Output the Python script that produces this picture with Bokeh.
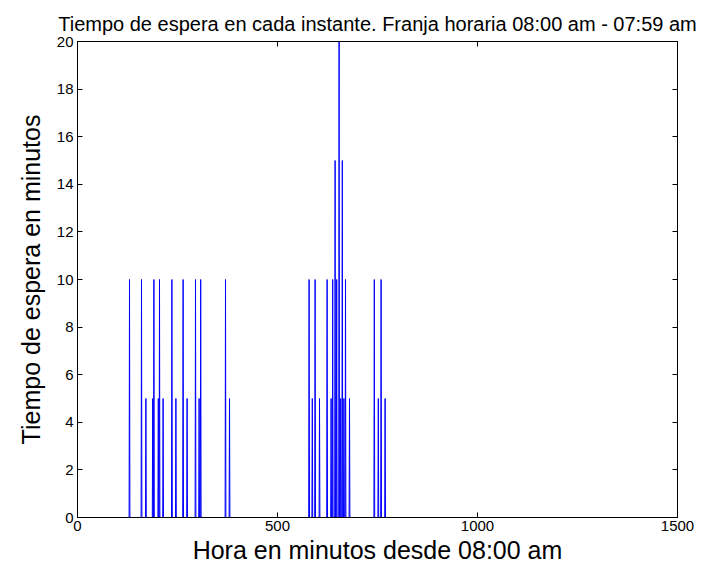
import numpy as np
from bokeh.plotting import figure
from bokeh.models import LinearAxis, FixedTicker, Range1d, CustomJSTickFormatter
from bokeh.embed import file_html
from bokeh.resources import INLINE

# Minutes of the day counted from 08:00 am (0 .. 1439)
total_minutes = 1440

# Minutes where a waiting time occurred, and the waiting time (minutes)
event_minute = [130, 160, 171, 188, 191, 202, 205, 214, 236, 246, 264, 274,
                295, 304, 308, 370, 380,
                579, 587, 594, 605, 624, 634, 638, 644, 648, 654, 658, 662,
                666, 670, 680,
                742, 752, 759, 769]
event_wait = [10, 10, 5, 5, 10, 5, 10, 5, 10, 5, 10, 5,
              10, 5, 10, 10, 5,
              10, 5, 10, 5, 10, 5, 10, 15, 10, 20, 5, 15,
              5, 10, 5,
              10, 5, 10, 5]

x_ticks = [0, 500, 1000, 1500]
y_ticks = [0, 2, 4, 6, 8, 10, 12, 14, 16, 18, 20]

minutes = np.arange(total_minutes)
wait = np.zeros(total_minutes)
wait[event_minute] = event_wait

FONT = "Liberation Sans"

p = figure(width=719, height=571, output_backend="svg", toolbar_location=None,
           x_range=Range1d(0, 1500), y_range=Range1d(0, 20),
           min_border_left=77, min_border_right=42,
           min_border_top=41, min_border_bottom=54,
           title="Tiempo de espera en cada instante. Franja horaria 08:00 am - 07:59 am")

p.line(minutes, wait, line_color="#0000ff", line_width=1)

p.title.text_font = FONT
p.title.text_font_size = "20px"
p.title.text_font_style = "normal"
p.title.align = "center"
p.title.text_color = "black"
p.title.standoff = 14

p.grid.visible = False
p.outline_line_color = "black"
p.outline_line_width = 1
p.background_fill_color = "white"
p.border_fill_color = "white"

for ax in (p.xaxis[0], p.yaxis[0]):
    ax.major_tick_in = 5
    ax.major_tick_out = 0
    ax.minor_tick_line_color = None
    ax.axis_line_color = "black"
    ax.major_tick_line_color = "black"
    ax.major_label_text_font = FONT
    ax.major_label_text_font_size = "15px"
    ax.major_label_text_color = "black"
    ax.axis_label_text_font = FONT
    ax.axis_label_text_font_size = "25px"
    ax.axis_label_text_font_style = "normal"
    ax.axis_label_text_color = "black"

p.xaxis[0].ticker = FixedTicker(ticks=x_ticks)
p.yaxis[0].ticker = FixedTicker(ticks=y_ticks)
p.xaxis[0].axis_label = "Hora en minutos desde 08:00 am"
p.yaxis[0].axis_label = "Tiempo de espera en minutos"
p.xaxis[0].major_label_standoff = 3
p.yaxis[0].major_label_standoff = 4
p.xaxis[0].axis_label_standoff = 2
p.yaxis[0].axis_label_standoff = 9

# Box-style axes on top and right with inward ticks and blank labels
blank = CustomJSTickFormatter(code="return ''")
top_axis = LinearAxis(ticker=FixedTicker(ticks=x_ticks), formatter=blank)
right_axis = LinearAxis(ticker=FixedTicker(ticks=y_ticks), formatter=blank)
for ax in (top_axis, right_axis):
    ax.major_tick_in = 5
    ax.major_tick_out = 0
    ax.minor_tick_line_color = None
    ax.axis_line_color = "black"
    ax.major_tick_line_color = "black"
    ax.major_label_standoff = 0
p.add_layout(top_axis, "above")
p.add_layout(right_axis, "right")

open("out.html", "w").write(file_html(p, INLINE))
